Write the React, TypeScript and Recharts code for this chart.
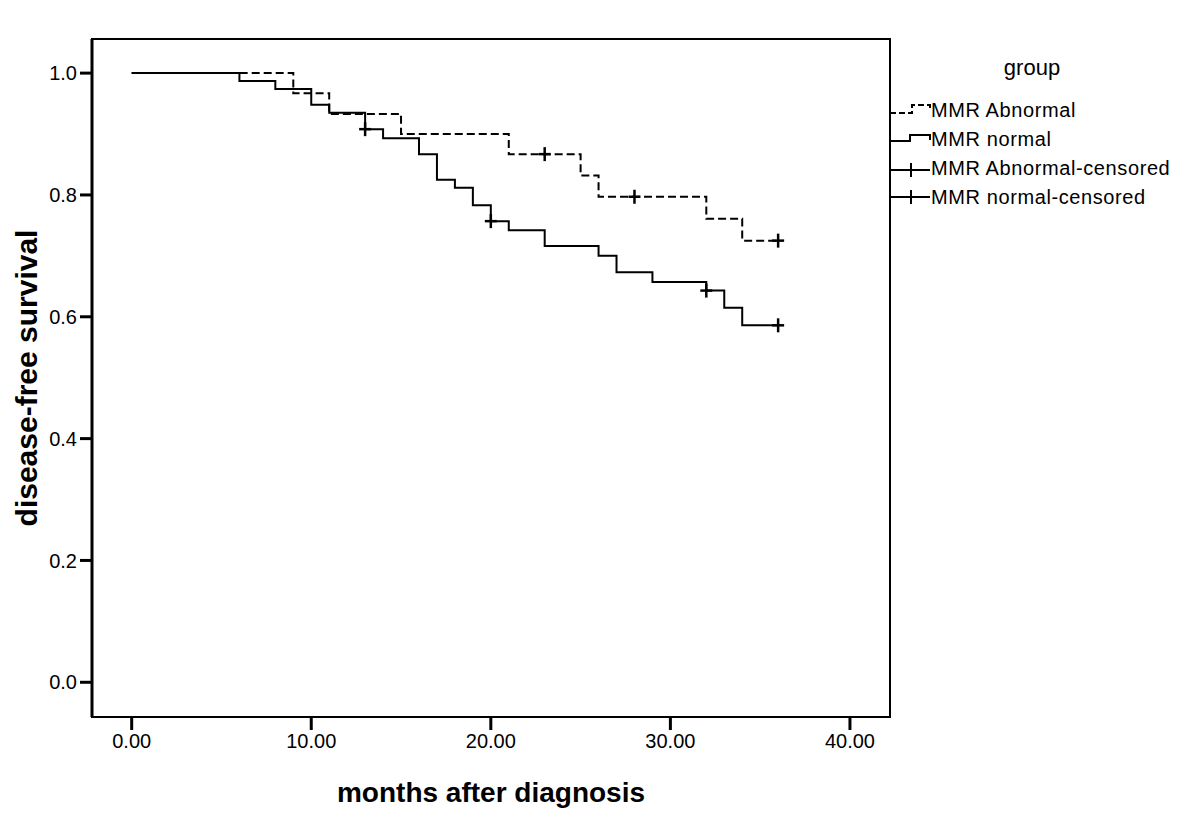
import React from 'react';
import { ComposedChart, Line, Scatter, XAxis, YAxis, ReferenceArea, Legend } from 'recharts';

// Kaplan-Meier step data (time in months, survival proportion)
const abnormalSurvival = [
  { t: 0, s: 1.0 },
  { t: 9, s: 0.967 },
  { t: 11, s: 0.933 },
  { t: 15, s: 0.9 },
  { t: 21, s: 0.867 },
  { t: 25, s: 0.832 },
  { t: 26, s: 0.797 },
  { t: 32, s: 0.761 },
  { t: 34, s: 0.725 },
  { t: 36, s: 0.725 },
];

const normalSurvival = [
  { t: 0, s: 1.0 },
  { t: 6, s: 0.987 },
  { t: 8, s: 0.974 },
  { t: 10, s: 0.948 },
  { t: 11, s: 0.935 },
  { t: 13, s: 0.908 },
  { t: 14, s: 0.893 },
  { t: 16, s: 0.867 },
  { t: 17, s: 0.825 },
  { t: 18, s: 0.812 },
  { t: 19, s: 0.783 },
  { t: 20, s: 0.757 },
  { t: 21, s: 0.742 },
  { t: 23, s: 0.716 },
  { t: 26, s: 0.7 },
  { t: 27, s: 0.673 },
  { t: 29, s: 0.657 },
  { t: 32, s: 0.643 },
  { t: 33, s: 0.615 },
  { t: 34, s: 0.586 },
  { t: 36, s: 0.586 },
];

const abnormalCensored = [
  { t: 23, s: 0.867 },
  { t: 28, s: 0.797 },
  { t: 36, s: 0.725 },
];

const normalCensored = [
  { t: 13, s: 0.908 },
  { t: 20, s: 0.757 },
  { t: 32, s: 0.643 },
  { t: 36, s: 0.586 },
];

const xTicks = [0, 10, 20, 30, 40];
const yTicks = [0, 0.2, 0.4, 0.6, 0.8, 1.0];
const xDomain = [-2.21, 42.23];
const yDomain = [-0.057, 1.056];

const legendTitle = 'group';
const legendLabels = ['MMR Abnormal', 'MMR normal', 'MMR Abnormal-censored', 'MMR normal-censored'];

const FONT = '"Liberation Sans", Arial, sans-serif';

const CensorMark = (props: any) => {
  const { cx, cy } = props;
  if (cx == null || cy == null) return null;
  return (
    <g>
      <line x1={cx - 6} y1={cy} x2={cx + 6} y2={cy} stroke="#000" strokeWidth={2.5} />
      <line x1={cx} y1={cy - 7} x2={cx} y2={cy + 7} stroke="#000" strokeWidth={2.5} />
    </g>
  );
};

const renderLegend = () => (
  <svg width={300} height={170} style={{ display: 'block', fontFamily: FONT }}>
    <text x={152} y={25} textAnchor="middle" fontSize={22} fill="#000">{legendTitle}</text>
    <path d="M10,63 H32 V55 H50 V58" fill="none" stroke="#000" strokeWidth={2} strokeDasharray="6 3" />
    <path d="M10,91 H30 V85 H50 V90" fill="none" stroke="#000" strokeWidth={2} />
    <path d="M10,120 H50 M31,113 V127" fill="none" stroke="#000" strokeWidth={2} />
    <path d="M10,147 H50 M31,140 V154" fill="none" stroke="#000" strokeWidth={2} />
    {legendLabels.map((label, i) => (
      <text key={label} x={51} y={67 + i * 29} fontSize={20} letterSpacing={0.6} fill="#000">{label}</text>
    ))}
  </svg>
);

export default function App() {
  return (
    <div style={{ position: 'absolute', left: 0, top: 0, width: 1181, height: 820, background: '#fff', fontFamily: FONT }}>
      <ComposedChart width={1181} height={820} margin={{ top: 39, right: 291, bottom: 0, left: 0 }}>
        <XAxis
          type="number"
          dataKey="t"
          domain={xDomain}
          allowDataOverflow
          ticks={xTicks}
          tickFormatter={(v: number) => v.toFixed(2)}
          height={103}
          tickSize={13}
          tickMargin={4}
          axisLine={{ stroke: '#000', strokeWidth: 2 }}
          tickLine={{ stroke: '#000', strokeWidth: 3 }}
          tick={{ fill: '#000', fontSize: 20, fontFamily: FONT }}
          label={{ value: 'months after diagnosis', position: 'insideBottom', offset: 18, style: { fontSize: 28, fontWeight: 'bold', fill: '#000', fontFamily: FONT } }}
        />
        <YAxis
          type="number"
          domain={yDomain}
          allowDataOverflow
          ticks={yTicks}
          tickFormatter={(v: number) => v.toFixed(1)}
          width={92}
          tickSize={12}
          tickMargin={3}
          axisLine={{ stroke: '#000', strokeWidth: 3 }}
          tickLine={{ stroke: '#000', strokeWidth: 3 }}
          tick={{ fill: '#000', fontSize: 20, fontFamily: FONT }}
          label={{ value: 'disease-free survival', angle: -90, position: 'insideLeft', offset: 26, style: { textAnchor: 'middle', fontSize: 30, fontWeight: 'bold', fill: '#000', fontFamily: FONT } }}
        />
        <ReferenceArea x1={xDomain[0]} x2={xDomain[1]} y1={yDomain[0]} y2={yDomain[1]} fill="none" stroke="#000" strokeWidth={2} ifOverflow="visible" />
        <Line data={abnormalSurvival} dataKey="s" type="stepAfter" stroke="#000" strokeWidth={2} strokeDasharray="8 4" dot={false} isAnimationActive={false} />
        <Line data={normalSurvival} dataKey="s" type="stepAfter" stroke="#000" strokeWidth={2} dot={false} isAnimationActive={false} />
        <Scatter data={abnormalCensored} dataKey="s" shape={CensorMark} isAnimationActive={false} />
        <Scatter data={normalCensored} dataKey="s" shape={CensorMark} isAnimationActive={false} />
        <Legend layout="horizontal" verticalAlign="middle" align="center" wrapperStyle={{ left: 880, top: 50, width: 300, height: 170 }} content={renderLegend} />
      </ComposedChart>
    </div>
  );
}
